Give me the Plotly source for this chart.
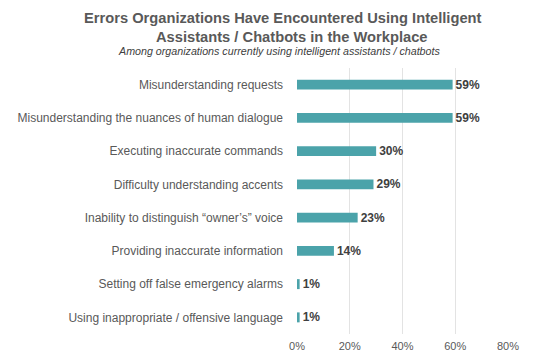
import plotly.graph_objects as go

categories = [
    "Misunderstanding requests",
    "Misunderstanding the nuances of human dialogue",
    "Executing inaccurate commands",
    "Difficulty understanding accents",
    "Inability to distinguish \u201cowner\u2019s\u201d voice",
    "Providing inaccurate information",
    "Setting off false emergency alarms",
    "Using inappropriate / offensive language",
]
values = [59, 59, 30, 29, 23, 14, 1, 1]
x_ticks = [0, 20, 40, 60, 80]
x_tick_labels = ["0%", "20%", "40%", "60%", "80%"]

title_line1 = "Errors Organizations Have Encountered Using Intelligent"
title_line2 = "Assistants / Chatbots in the Workplace"
subtitle_text = "Among organizations currently using intelligent assistants / chatbots"

FONT = "Liberation Sans, Arial"

fig = go.Figure()
fig.add_trace(go.Bar(
    x=values,
    y=categories,
    orientation="h",
    marker=dict(color="#4BA3AA", line=dict(width=0)),
    text=[f"{v}%" for v in values],
    textposition="outside",
    constraintext="none",
    textfont=dict(family=FONT, size=12, color="#404040", weight="bold"),
    cliponaxis=False,
    hoverinfo="skip",
))

W, H = 537, 356
l, r, t, b = 297, 29, 68, 22
pw, ph = W - l - r, H - t - b

def px(xp):
    return (xp - l) / pw

def py(yp):
    return (H - b - yp) / ph

fig.update_layout(
    template="none",
    width=W, height=H,
    margin=dict(l=l, r=r, t=t, b=b, autoexpand=False),
    paper_bgcolor="white", plot_bgcolor="white",
    bargap=0.7,
    showlegend=False,
    font=dict(family=FONT, color="#595959"),
    xaxis=dict(
        range=[0, 80],
        tickvals=x_ticks, ticktext=x_tick_labels,
        showgrid=True, gridcolor="#E3E3E3", gridwidth=1,
        zeroline=False, showline=False, ticks="",
        ticklabelstandoff=4,
        tickfont=dict(family=FONT, size=11, color="#595959"),
        fixedrange=True,
    ),
    yaxis=dict(
        categoryorder="array", categoryarray=categories[::-1],
        tickfont=dict(family=FONT, size=12, color="#595959"),
        ticklabelstandoff=13, ticks="",
        showgrid=False, showline=False, zeroline=False,
        fixedrange=True,
    ),
)

fig.add_annotation(text=f"<b>{title_line1}</b>", xref="paper", yref="paper",
                   x=px(283), y=py(18), xanchor="center", yanchor="middle",
                   showarrow=False,
                   font=dict(size=14.7, color="#595959", family=FONT))
fig.add_annotation(text=f"<b>{title_line2}</b>", xref="paper", yref="paper",
                   x=px(292), y=py(37), xanchor="center", yanchor="middle",
                   showarrow=False,
                   font=dict(size=14.7, color="#595959", family=FONT))
fig.add_annotation(text=f"<i>{subtitle_text}</i>", xref="paper", yref="paper",
                   x=px(279), y=py(51), xanchor="center", yanchor="middle",
                   showarrow=False,
                   font=dict(size=10.7, color="#404040", family=FONT))

fig.write_html("out.html", config={"displayModeBar": False},
               post_script="document.body.style.margin='0';")
